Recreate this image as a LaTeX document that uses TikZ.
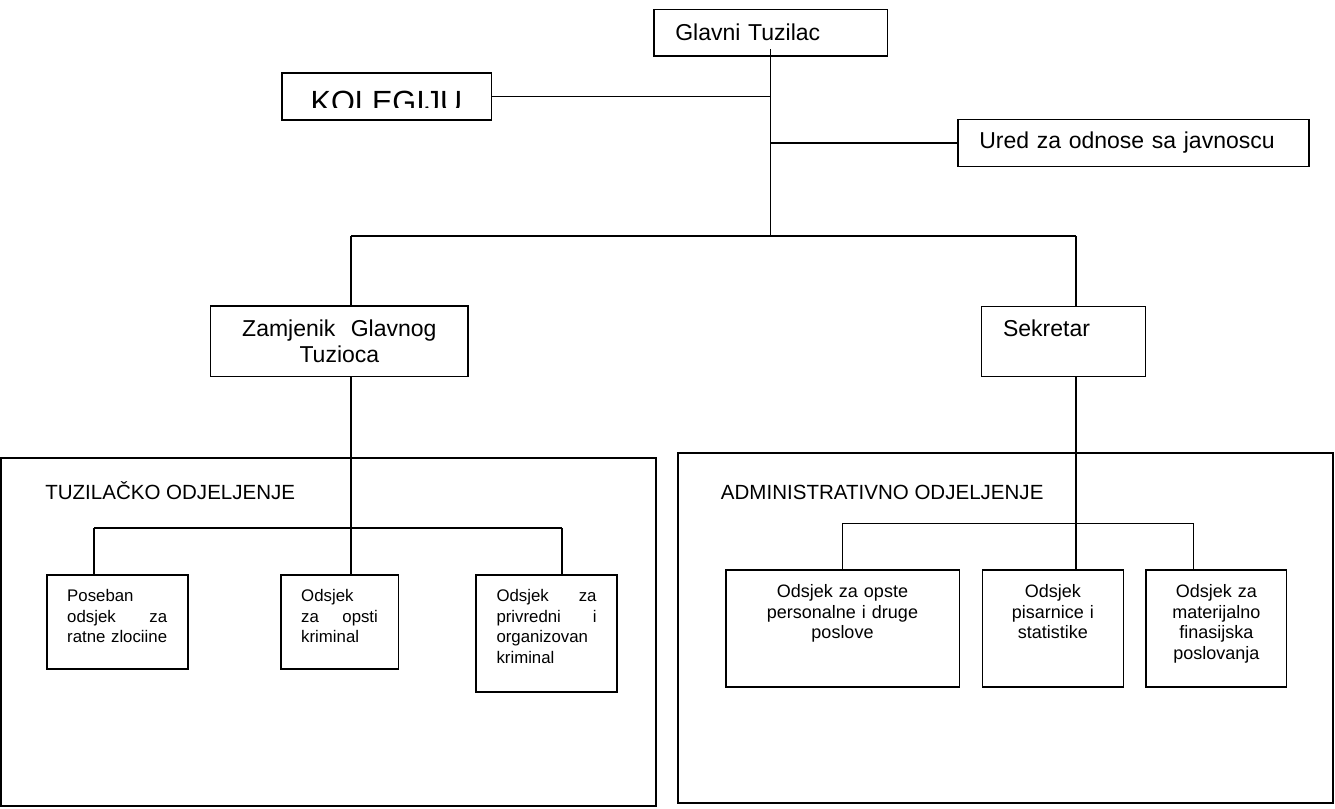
\documentclass[tikz,border=0pt]{standalone}
\usepackage{fontspec}
\setmainfont{Liberation Sans}

\begin{document}
\begin{tikzpicture}[
    x=0.75pt, y=-0.75pt,
    headbox/.style={draw, line width=1pt, inner xsep=16pt, inner ysep=0pt, outer sep=0pt, font=\fontsize{17.25pt}{20pt}\selectfont},
    deptbox/.style={draw, line width=1.75pt, anchor=north west, inner sep=0pt, outer sep=0pt},
    depttitle/.style={anchor=base west, inner sep=0pt, font=\fontsize{15.4pt}{18pt}\selectfont},
    unitbox/.style={draw, line width=1.2pt, anchor=north west, inner xsep=15.4pt, inner ysep=0pt, outer sep=0pt},
    prosunit/.style={unitbox, align=left, text width=75pt, text height=20pt, font=\fontsize{12.6pt}{15.4pt}\selectfont},
    adminunit/.style={unitbox, align=center, text height=20.5pt, text depth=67.3pt, font=\fontsize{13.5pt}{15.6pt}\selectfont},
    link/.style={line width=1pt},
]
\path[use as bounding box, fill=white] (0,0) rectangle (1335,809);

% Departments (drawn first, behind the links)
\node[deptbox, minimum width=491.1pt, minimum height=261pt] (tuzdept) at (1.2,458) {};
\node[deptbox, minimum width=491pt, minimum height=262.5pt] (admdept) at (678,453) {};
\node[depttitle] (tuztitle) at (45,499) {TUZILAČKO ODJELJENJE};
\node[depttitle] (admtitle) at (720.7,499) {ADMINISTRATIVNO ODJELJENJE};

% Top level
\node[headbox, text width=143.2pt, align=left, minimum height=35pt] (glavni) at (770.8,32.65) {Glavni Tuzilac};
\node[headbox, minimum width=157.3pt, minimum height=35.25pt, inner sep=0pt] (kolegij) at (386.85,96.5) {};
\begin{scope}
  \clip (kolegij.north west) rectangle ([yshift=9pt]kolegij.south east);
  \node[anchor=base, inner sep=0pt, font=\fontsize{23pt}{27pt}\selectfont] (kolegijtext) at (386.5,112.7) {KOLEGIJU};
\end{scope}
\node[headbox, text width=231.25pt, align=left, minimum height=35.5pt] (ured) at (1133.5,143) {Ured za odnose sa javnoscu};

% Second level
\node[headbox, text width=161pt, align=center, minimum height=53pt] (zamjenik) at (339.35,341.35) {Zamjenik\ \ Glavnog\\Tuzioca};
\node[headbox, text width=91pt, align=left, minimum height=52.5pt] (sekretar) at (1063.7,341.7) {Sekretar\\~};

% Prosecution units
\node[prosunit, text depth=50.5pt] (ratni) at (46.7,575) {Poseban\\odsjek\hfill za\\ratne zlociine};
\node[prosunit, text width=57.5pt, text depth=50.5pt] (opsti) at (280.7,575) {Odsjek\\za\hfill opsti\\kriminal};
\node[prosunit, text depth=67.7pt] (privredni) at (476,575) {Odsjek\hfill za\\privredni\hfill i\\organizovan\\kriminal};

% Administrative units
\node[adminunit, text width=144.4pt] (opste) at (725.7,570) {Odsjek za opste\\personalne i druge\\poslove};
\node[adminunit, text width=75pt] (pisarnica) at (982.3,570) {Odsjek\\pisarnice i\\statistike};
\node[adminunit, text width=74.7pt] (finansije) at (1146,570) {Odsjek za\\materijalno\\finasijska\\poslovanja};

% Links
\coordinate (bar-l) at (351,236);
\coordinate (bar-r) at (1076,236);
\draw[link] (bar-l) -- (bar-r);
\draw[link] ([yshift=5.25pt]glavni.south) -- (glavni.south |- bar-l);
\draw[link] (kolegij.east) -- (kolegij.east -| glavni.south);
\draw[link] (ured.west) -- (ured.west -| glavni.south);
\draw[link] (bar-l) -- (bar-l |- zamjenik.north);
\draw[link] (bar-r) -- (bar-r |- sekretar.north);

\coordinate (sub-l) at (94,528);
\coordinate (sub-r) at (562,528);
\draw[link] (sub-l) -- (sub-r);
\draw[link] (sub-l) -- (sub-l |- ratni.north);
\draw[link] (sub-r) -- (sub-r |- privredni.north);
\draw[link] (bar-l |- zamjenik.south) -- (bar-l |- opsti.north);

\coordinate (adm-l) at (842.7,523.3);
\coordinate (adm-r) at (1193.2,523.3);
\draw[link] (adm-l) -- (adm-r);
\draw[link] (adm-l) -- (adm-l |- opste.north);
\draw[link] (adm-r) -- (adm-r |- finansije.north);
\draw[link] (bar-r |- sekretar.south) -- (bar-r |- pisarnica.north);
\end{tikzpicture}
\end{document}
